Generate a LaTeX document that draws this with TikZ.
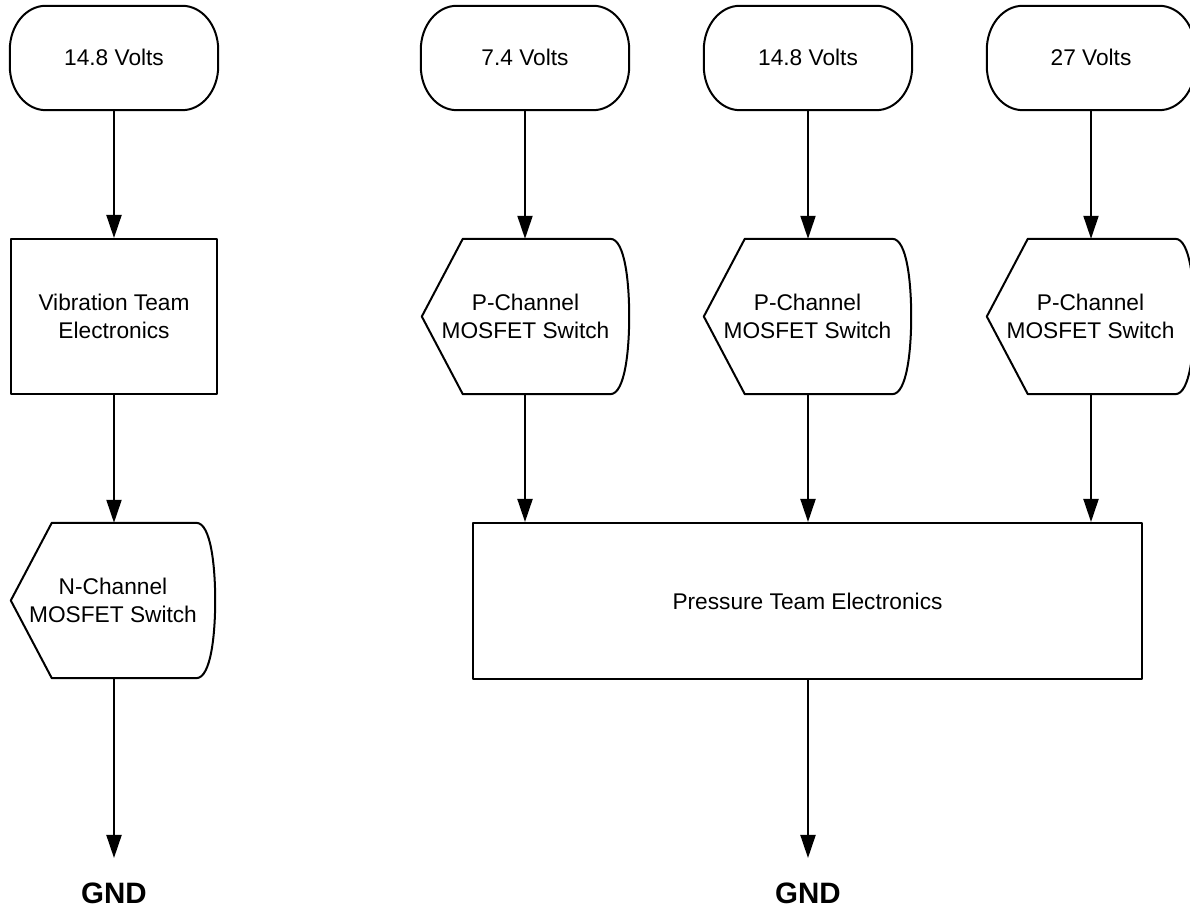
\documentclass[tikz,border=0pt]{standalone}
\usepackage{fontspec}
\setmainfont{Liberation Sans}
\usetikzlibrary{arrows.meta,calc}
\tikzset{
  shapeline/.style={draw=black, line width=2pt, line join=round},
  lbl/.style={inner sep=0pt, align=center, font=\fontsize{22.7}{28}\selectfont},
  term/.style={lbl, minimum width=208pt, minimum height=104pt},
  disp/.style={lbl, minimum width=207pt, minimum height=155pt},
  boxnode/.style={lbl, shapeline, rectangle},
  gnd/.style={inner sep=0pt, font=\fontsize{29.5}{32}\selectfont\bfseries},
  arr/.style={line width=2pt, -{Triangle[length=23pt,width=15pt]}},
}
\newcommand\termoutline[1]{%
  \draw[shapeline] ([xshift=36pt]#1.north west) -- ([xshift=-36pt]#1.north east)
    arc[start angle=90,end angle=0,x radius=36pt,y radius=44pt]
    -- ([yshift=44pt]#1.south east)
    arc[start angle=0,end angle=-90,x radius=36pt,y radius=44pt]
    -- ([xshift=36pt]#1.south west)
    arc[start angle=-90,end angle=-180,x radius=36pt,y radius=44pt]
    -- ([yshift=-44pt]#1.north west)
    arc[start angle=180,end angle=90,x radius=36pt,y radius=44pt] -- cycle;}
\newcommand\dispoutline[1]{%
  \draw[shapeline] (#1.west) -- ([xshift=41pt]#1.north west)
    -- ([xshift=-19pt]#1.north east)
    .. controls ([xshift=-4pt]#1.north east) and ([yshift=-45pt]#1.north east) .. (#1.east)
    .. controls ([yshift=45pt]#1.south east) and ([xshift=-4pt]#1.south east) .. ([xshift=-19pt]#1.south east)
    -- ([xshift=41pt]#1.south west) -- cycle;}
\begin{document}
\begin{tikzpicture}[x=1pt,y=1pt]
\useasboundingbox (0,0) rectangle (1190,909);
\fill[white] (0,0) rectangle (1190,909);

% terminators
\node[term] (t1) at (114,851) {\raisebox{2pt}{14.8 Volts}};
\node[term] (t2) at (525,851) {\raisebox{2pt}{7.4 Volts}};
\node[term] (t3) at (808,851) {\raisebox{2pt}{14.8 Volts}};
\node[term] (t4) at (1091,851) {\raisebox{2pt}{27 Volts}};
\foreach \n in {t1,t2,t3,t4} {\termoutline{\n}}

% vibration branch
\node[boxnode, minimum width=206pt, minimum height=155pt] (vib) at (114,592.5) {Vibration Team\\Electronics};
\node[disp, minimum width=204pt] (nch) at (113,308.5) {N-Channel\\MOSFET Switch};
\dispoutline{nch}

% pressure branch
\node[disp] (p1) at (525.5,592.5) {P-Channel\\MOSFET Switch};
\node[disp] (p2) at (807.5,592.5) {P-Channel\\MOSFET Switch};
\node[disp] (p3) at (1090.5,592.5) {P-Channel\\MOSFET Switch};
\foreach \n in {p1,p2,p3} {\dispoutline{\n}}

\node[boxnode, minimum width=669pt, minimum height=156pt] (pr) at (807.5,308) {Pressure Team Electronics};

% GND
\node[gnd] (g1) at (114,16) {GND};
\node[gnd] (g2) at (808,16) {GND};
\coordinate (g1t) at (114,51);
\coordinate (g2t) at (808,51);

% connectors
\draw[arr] (t1.south) -- (t1.south |- vib.north);
\draw[arr] (vib.south) -- (vib.south |- nch.north);
\draw[arr] (nch.south -| vib.south) -- (g1t);
\draw[arr] (t2.south) -- (t2.south |- p1.north);
\draw[arr] (t3.south) -- (t3.south |- p2.north);
\draw[arr] (t4.south) -- (t4.south |- p3.north);
\draw[arr] (p1.south -| t2.south) -- (t2.south |- pr.north);
\draw[arr] (p2.south -| t3.south) -- (t3.south |- pr.north);
\draw[arr] (p3.south -| t4.south) -- (t4.south |- pr.north);
\draw[arr] (pr.south -| t3.south) -- (g2t);
\end{tikzpicture}
\end{document}
